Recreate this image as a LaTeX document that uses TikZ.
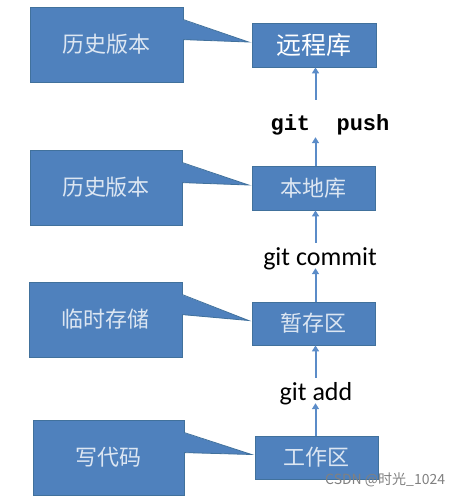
\documentclass[tikz,border=0pt]{standalone}
\usepackage{fontspec}
\usetikzlibrary{arrows.meta}
\newfontfamily\cjk{Noto Sans CJK SC}
\newfontfamily\calfont{Carlito}
\newfontfamily\gmono{Liberation Mono}
\definecolor{boxfill}{HTML}{4F81BD}
\definecolor{boxline}{HTML}{41719C}
\definecolor{boxtext}{HTML}{DCE6F2}
\definecolor{arrowc}{HTML}{5B8CC8}
\tikzset{
  callout/.style={draw=boxline, fill=boxfill, line width=0.8pt, minimum width=153pt, minimum height=75pt, inner sep=0pt, text=boxtext, font=\cjk\fontsize{22}{22}\selectfont},
  stage/.style={draw=boxline, fill=boxfill, line width=0.8pt, minimum width=123pt, minimum height=44pt, inner sep=0pt, text=boxtext, font=\cjk\fontsize{22}{22}\selectfont},
  cmd/.style={anchor=base, inner sep=0pt, text=black, font=\calfont\fontsize{26}{26}\selectfont, text height=22pt, text depth=3pt},
  arr/.style={draw=arrowc, line width=2pt, -{Triangle[width=7pt,length=6pt]}},
  pointer/.style={fill=boxfill},
  pedge/.style={draw=boxline, line width=0.8pt},
  wm/.style={inner sep=0pt, text=black!50, font=\cjk\fontsize{14}{14}\selectfont}
}
\begin{document}
\begin{tikzpicture}[x=1pt,y=-1pt]
\useasboundingbox (0,0) rectangle (458,496);
% stages
\node[stage, font=\cjk\fontsize{25}{25}\selectfont, text=white, minimum width=124pt] (remote) at (314,45) {远程库};
\node[stage] (local) at (313.5,188) {本地库};
\node[stage, minimum height=43pt] (stagearea) at (313.5,323.5) {暂存区};
\node[stage, minimum height=43pt] (work) at (316.5,457.5) {工作区};
% callouts
\node[callout] (c1) at (106.5,44.5) {历史版本};
\node[callout, minimum width=152pt] (c2) at (106,187.5) {历史版本};
\node[callout] (c3) at (105.5,319.5) {临时存储};
\node[callout, minimum width=151pt] (c4) at (108.5,457.5) {写代码};
% pointers
\foreach \c/\b in {c1/remote,c2/local,c3/stagearea,c4/work}{
  \coordinate (\c t) at ([yshift=-13pt]\c.north east);
  \coordinate (\c b) at ([yshift=-33pt]\c.north east);
  \coordinate (\c p) at ([xshift=-3pt,yshift=3pt]\b.west);
  \fill[pointer] ([xshift=-1pt]\c t) -- (\c p) -- ([xshift=-1pt]\c b) -- cycle;
  \draw[pedge] (\c t) -- (\c p) -- (\c b);
}
% labels
\node[cmd, font=\gmono\bfseries\fontsize{22}{22}\selectfont, text height=30pt, text depth=7pt] (push) at (330,130) {git\ \ push};
\node[cmd] (commit) at (320,265) {git commit};
\node[cmd] (add) at (316,400) {git add};
\coordinate (ax) at (315.5,0);
% arrows
\draw[arr] (ax |- local.north) -- (ax |- push.south);
\draw[arr] (ax |- push.north) -- (ax |- remote.south);
\draw[arr] (ax |- stagearea.north) -- (ax |- commit.south);
\draw[arr] (ax |- commit.north) -- (ax |- local.south);
\draw[arr] (ax |- work.north) -- (ax |- add.south);
\draw[arr] (ax |- add.north) -- (ax |- stagearea.south);
% watermark
\node[wm, anchor=west] (mark) at (325,480) {CSDN @时光\_1024};
\end{tikzpicture}
\end{document}
